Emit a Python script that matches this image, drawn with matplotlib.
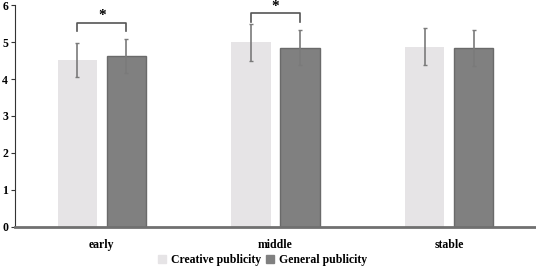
import numpy as np
import matplotlib
matplotlib.use('Agg')
import matplotlib.pyplot as plt
from matplotlib.patches import Patch

plt.rcParams['font.family'] = ['Liberation Serif', 'DejaVu Serif']
plt.rcParams['font.weight'] = 'bold'

# 데이터
stages = ['early', 'middle', 'stable']
series = ['Creative publicity', 'General publicity']
creative_mean = [4.51, 5.00, 4.88]
creative_sd = [0.46, 0.50, 0.49]
general_mean = [4.63, 4.85, 4.84]
general_sd = [0.46, 0.48, 0.49]
sig_pairs = [0, 1]  # stage indices with significant difference

fig = plt.figure(figsize=(5.36, 2.76), dpi=100)
ax = fig.add_axes([0.028, 0.179, 0.972, 0.802])

x = np.arange(len(stages))
w = 0.225
off = 0.141
err_kw = dict(ecolor='#7a7a7a', elinewidth=1.2, capsize=1.2, capthick=1.0)
ax.bar(x - off, creative_mean, w, color='#e6e4e6', yerr=creative_sd,
       error_kw=err_kw, zorder=2)
ax.bar(x + off, general_mean, w, color='#808080', edgecolor='#6a6a6a',
       linewidth=1.0, yerr=general_sd, error_kw=err_kw, zorder=2)

# 유의성 표시
for i in sig_pairs:
    top = max(creative_mean[i] + creative_sd[i], general_mean[i] + general_sd[i])
    y0 = top + 0.2 if i == 0 else top + 0.05
    h = 0.23
    ax.plot([x[i] - off, x[i] - off, x[i] + off, x[i] + off],
            [y0, y0 + h, y0 + h, y0], color='#555555', lw=1.2, zorder=3)
    ax.text(x[i], y0 + h + 0.02, '*', ha='center', va='bottom',
            fontsize=11, fontweight='bold')

ax.set_xlim(-0.5, 2.5)
ax.set_ylim(0, 6)
ax.set_yticks(range(7))
ax.set_xticks(x)
ax.set_xticklabels(stages, fontsize=8.5, fontweight='bold')
ax.tick_params(axis='x', length=0, pad=9)
ax.tick_params(axis='y', labelsize=8.5, length=3, width=0.8, pad=2, color='#333333')
for lbl in ax.get_yticklabels():
    lbl.set_fontweight('bold')

ax.spines['top'].set_visible(False)
ax.spines['right'].set_visible(False)
ax.spines['left'].set_color('#333333')
ax.spines['left'].set_linewidth(0.8)
ax.spines['bottom'].set_color('#707070')
ax.spines['bottom'].set_linewidth(2.0)

handles = [Patch(color='#e6e4e6'), Patch(color='#808080')]
fig.legend(handles, series, loc='center', bbox_to_anchor=(0.49, 0.058),
           ncol=2, frameon=False, handlelength=0.7,
           handleheight=0.7, handletextpad=0.4, columnspacing=0.4,
           prop={'weight': 'bold', 'size': 8.5})

fig.savefig('out.png', dpi=100)
